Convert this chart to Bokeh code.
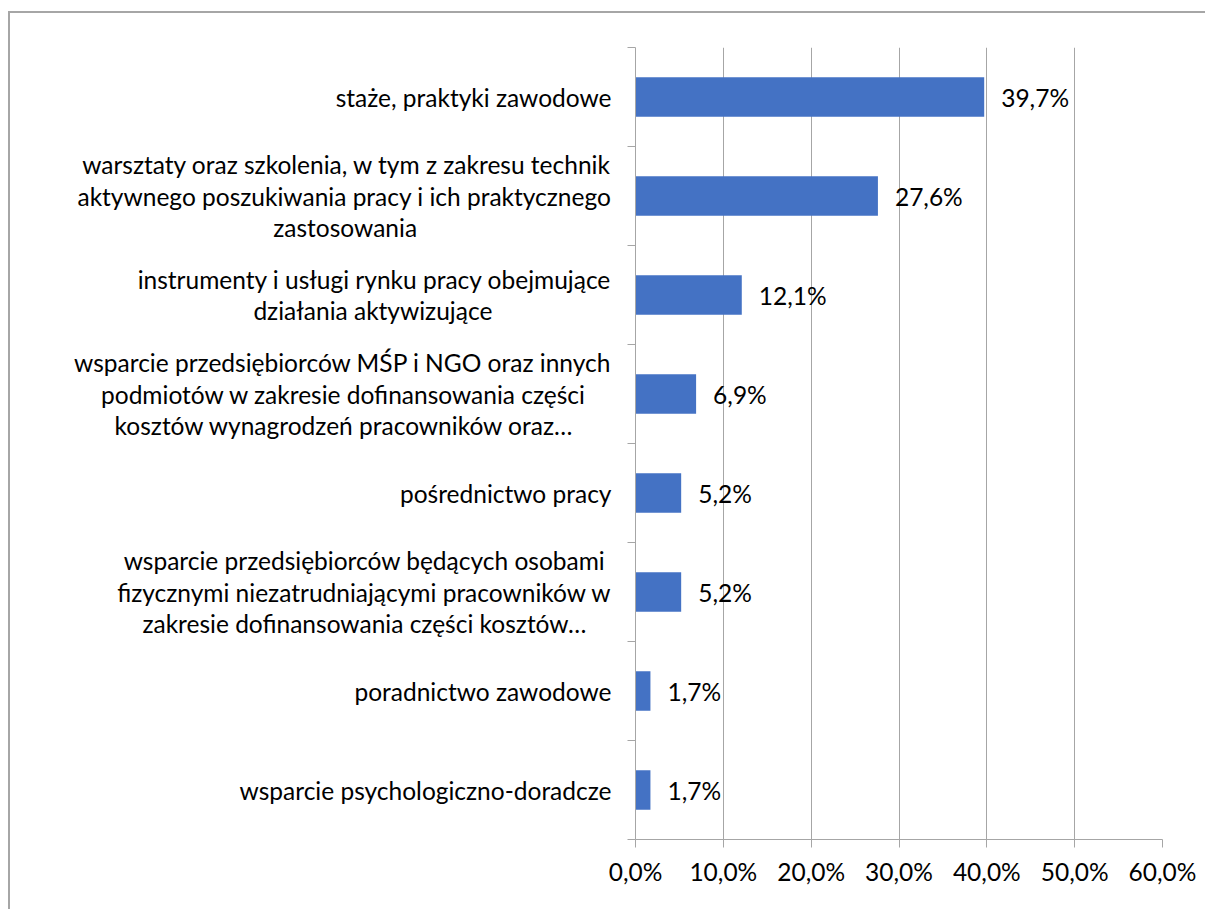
import glob
import os
import subprocess

from bokeh.plotting import figure
from bokeh.models import Range1d, FixedTicker, ColumnDataSource
from bokeh.core.properties import value
from bokeh.embed import file_html
from bokeh.resources import INLINE

# ---- data ----
categories = [
    "staże, praktyki zawodowe",
    "warsztaty oraz szkolenia, w tym z zakresu technik\naktywnego poszukiwania pracy i ich praktycznego\nzastosowania",
    "instrumenty i usługi rynku pracy obejmujące\ndziałania aktywizujące",
    "wsparcie przedsiębiorców MŚP i NGO oraz innych\npodmiotów w zakresie dofinansowania części\nkosztów wynagrodzeń pracowników oraz…",
    "pośrednictwo pracy",
    "wsparcie przedsiębiorców będących osobami\nfizycznymi niezatrudniającymi pracowników w\nzakresie dofinansowania części kosztów…",
    "poradnictwo zawodowe",
    "wsparcie psychologiczno-doradcze",
]
values = [39.7, 27.6, 12.1, 6.9, 5.2, 5.2, 1.7, 1.7]
value_labels = ["39,7%", "27,6%", "12,1%", "6,9%", "5,2%", "5,2%", "1,7%", "1,7%"]
x_ticks = [0, 10, 20, 30, 40, 50, 60]
x_tick_labels = ["0,0%", "10,0%", "20,0%", "30,0%", "40,0%", "50,0%", "60,0%"]

# ---- styling ----
FONT = "Lato"
FS_PX = 24.5
FS = f"{FS_PX}px"
GRAY = "#a6a6a6"
BLUE = "#4472C4"
W, H = 1205, 909
B_LEFT, B_RIGHT, B_TOP, B_BOTTOM = 635, 43, 47, 70
NBSP = "\u00a0"


def _font_path():
    try:
        out = subprocess.run(["fc-match", "-f", "%{file}", "Lato:style=Regular"],
                             capture_output=True, text=True, timeout=5).stdout.strip()
        if out and os.path.exists(out):
            return out
    except Exception:
        pass
    for pat in ["/usr/share/fonts/**/Lato-Regular.*",
                "/usr/local/share/fonts/**/Lato-Regular.*"]:
        g = glob.glob(pat, recursive=True)
        if g:
            return g[0]
    return None


_fp = _font_path()
_font = None
if _fp:
    try:
        from PIL import ImageFont
        _font = ImageFont.truetype(_fp, 100)
    except Exception:
        _font = None


def text_width(s):
    if _font is not None:
        return _font.getlength(s) * FS_PX / 100.0
    return len(s) * 0.5 * FS_PX


def centred_block(label):
    """Right-aligned block whose lines look centred (pad short lines with NBSP)."""
    lines = label.split("\n")
    maxw = max(text_width(s) for s in lines)
    nb = text_width(NBSP) or FS_PX * 0.25
    out = []
    for s in lines:
        pad = int(round((maxw - text_width(s)) / 2 / nb))
        out.append(s + NBSP * pad)
    return "\n".join(out)


n = len(categories)
centers = [i + 0.5 for i in range(n)]
bounds = list(range(n + 1))

p = figure(width=W, height=H, output_backend="svg", toolbar_location=None,
           x_range=Range1d(0, 60), y_range=Range1d(n, 0),
           min_border_left=B_LEFT, min_border_right=B_RIGHT,
           min_border_top=B_TOP, min_border_bottom=B_BOTTOM,
           styles={
               "background-color": "white",
               "background-image": f"linear-gradient({GRAY}, {GRAY}), linear-gradient({GRAY}, {GRAY})",
               "background-position": "8px 11px, 8px 11px",
               "background-size": "2px 3000px, 3000px 2px",
               "background-repeat": "no-repeat",
           })
p.outline_line_color = None
p.background_fill_color = None
p.border_fill_color = None

src = ColumnDataSource(dict(y=centers, v=values, lab=value_labels))
p.hbar(y="y", left=0, right="v", height=0.4, source=src,
       fill_color=BLUE, line_color=None)
p.text(x="v", y="y", text="lab", source=src, x_offset=17,
       text_align="left", text_baseline="middle",
       text_font=value(FONT), text_font_size=FS, text_color="black")

xa = p.xaxis[0]
xa.ticker = FixedTicker(ticks=x_ticks)
xa.major_label_overrides = dict(zip(x_ticks, x_tick_labels))
xa.major_tick_out = 8
xa.major_tick_in = 0
xa.minor_tick_line_color = None
xa.axis_line_color = GRAY
xa.major_tick_line_color = GRAY
xa.major_label_standoff = 9
xa.major_label_text_font = FONT
xa.major_label_text_font_size = FS
xa.major_label_text_color = "black"

ya = p.yaxis[0]
ya.ticker = FixedTicker(ticks=centers, minor_ticks=bounds)
ya.major_label_overrides = {c: centred_block(cat) for c, cat in zip(centers, categories)}
ya.major_tick_out = 0
ya.major_tick_in = 0
ya.major_tick_line_color = None
ya.minor_tick_out = 8
ya.minor_tick_in = 0
ya.minor_tick_line_color = GRAY
ya.axis_line_color = GRAY
ya.major_label_standoff = 16
ya.major_label_text_font = FONT
ya.major_label_text_font_size = FS
ya.major_label_text_color = "black"
ya.major_label_text_line_height = 1.1

p.xgrid.ticker = FixedTicker(ticks=x_ticks)
p.xgrid.grid_line_color = GRAY
p.ygrid.visible = False

open("out.html", "w").write(file_html(p, INLINE))
